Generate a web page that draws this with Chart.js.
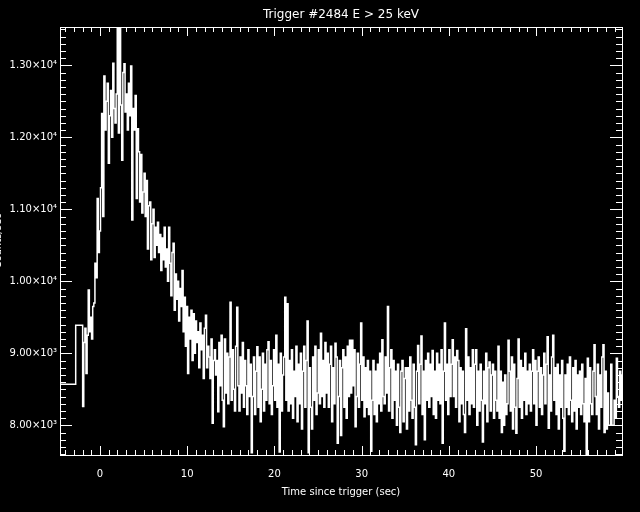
<!DOCTYPE html>
<html>
<head>
<meta charset="utf-8">
<script src="https://cdn.jsdelivr.net/npm/chart.js@4.4.1/dist/chart.umd.min.js"></script>
<style>
  html, body { margin: 0; padding: 0; background: #000; }
</style>
</head>
<body>
<canvas id="lc" width="640" height="512"></canvas>
<script>
const titleText = "Trigger #2484 E > 25 keV";
const xTitle = "Time since trigger (sec)";
const yTitle = "Counts/sec";

// two wide pre-trigger bins (left edge, rate)
const preTimes = [-4.8, -2.78];
const preRates = [8570, 9390];

// fine bins after that, 0.128 s each
const fineStart = -1.984;
const binWidth = 0.128;
const rates = [
  8260, 9150, 9350, 8720, 9250, 9880, 9300, 9500, 9200, 9650,
  9700, 10250, 10050, 11150, 10400, 10700, 11300, 12330, 10900, 12850,
  12100, 12500, 12750, 11640, 12300, 12650, 12000, 13030, 12400, 12200,
  12600, 13600, 12060, 13550, 12450, 11680, 12900, 13020, 12350, 12600,
  12100, 12750, 12300, 12990, 10850, 12400, 12100, 12580, 11150, 12120,
  11800, 11100, 11760, 10950, 11240, 11500, 10900, 11400, 10450, 11050,
  11100, 10300, 10800, 11000, 10330, 10750, 10500, 10820, 10400, 10650,
  10150, 10600, 10300, 10750, 10200, 10450, 10000, 10750, 10250, 9800,
  10400, 10530, 9600, 10100, 9750, 10000, 9450, 9900, 9650, 10150,
  9300, 9780, 9100, 9650, 8720, 9500, 9200, 9600, 8900, 9550,
  9000, 9450, 9150, 9300, 8800, 9420, 9050, 9250, 8650, 9350,
  9530, 8800, 9100, 8950, 8650, 9200, 8030, 8900, 9050, 8700,
  8900, 8190, 9150, 8550, 9250, 8350, 7980, 9200, 8450, 9000,
  8300, 8950, 9710, 8350, 9050, 8500, 8200, 9100, 9640, 8550,
  8200, 8950, 8450, 9150, 8250, 8900, 8550, 8150, 9050, 8400,
  8850, 7620, 8400, 8950, 8150, 8750, 9090, 8250, 8950, 8050,
  8500, 9000, 8200, 8850, 8350, 9050, 9160, 8300, 8900, 8150,
  8550, 9050, 8350, 9250, 8250, 8850, 7630, 9000, 8200, 8700,
  8950, 9780, 8350, 9690, 8200, 8900, 8300, 9050, 8100, 8750,
  8400, 9100, 8050, 8850, 8300, 9000, 7950, 8750, 9100, 8250,
  8900, 9450, 7620, 8800, 8250, 7950, 8950, 8350, 9100, 8150,
  8450, 9050, 8300, 9280, 8400, 8900, 8250, 9150, 8450, 9000,
  8250, 8850, 9100, 8050, 8800, 8300, 9140, 8950, 7750, 8400,
  8900, 7860, 8800, 9050, 8250, 8950, 8100, 9100, 8400, 9180,
  8450, 9180, 8550, 9050, 7980, 8400, 9000, 8250, 8850, 9420,
  8350, 8950, 8120, 8800, 8250, 8900, 8150, 8750, 7640, 8350,
  8900, 8150, 8750, 8050, 8850, 8300, 9000, 8200, 9190, 8400,
  8300, 8950, 8450, 9650, 8200, 8800, 9050, 8100, 8900, 8350,
  8750, 8000, 8850, 8250, 7900, 8750, 8900, 8050, 8650, 8800,
  7950, 8800, 8200, 8950, 8350, 8100, 8850, 8250, 7730, 8750,
  9110, 8300, 8850, 9240, 8150, 8750, 7800, 8900, 8350, 9000,
  8250, 8850, 8400, 9040, 8150, 8750, 8100, 9000, 8350, 8850,
  8300, 9050, 7750, 8750, 9420, 8350, 8850, 8150, 9050, 8400,
  8850, 9190, 8400, 8950, 8250, 9040, 8900, 8050, 8800, 8300,
  8750, 8150, 7900, 9340, 8350, 8950, 8150, 8800, 8300, 9050,
  8250, 8850, 9050, 8000, 8750, 8200, 8850, 8350, 7770, 8750,
  8300, 9000, 8050, 8800, 8880, 8200, 8700, 8850, 8100, 8750,
  8350, 8200, 9100, 8100, 8750, 7900, 8600, 8000, 8700, 8150,
  8300, 9180, 8750, 8200, 8950, 7950, 8850, 8250, 7890, 8650,
  9200, 8250, 8900, 8100, 8800, 8350, 9000, 8150, 8750, 8300,
  8850, 8200, 8750, 9050, 8300, 8900, 8000, 8750, 8950, 8250,
  8800, 8150, 8700, 9000, 8300, 8850, 9230, 7960, 8700, 8200,
  8950, 9250, 8350, 8800, 8150, 8850, 7950, 8700, 8250, 8900,
  8100, 7640, 8700, 8250, 8850, 8150, 8950, 8350, 8050, 8800,
  8200, 8900, 7950, 8700, 8250, 8750, 8150, 8850, 8300, 8050,
  8650, 7600, 8930, 8050, 8800, 8300, 8150, 8750, 9120, 8400,
  8150, 8850, 7950, 8700, 8250, 8950, 9120, 7900, 8750, 7950,
  8450, 8000, 8000, 8850, 8000, 8000, 8350, 8100, 8930, 8400,
  8250, 8750, 8350, 8700
];

const xTickValues = [0, 10, 20, 30, 40, 50];
const yTickValues = [8000, 9000, 10000, 11000, 12000, 13000];
const xMin = -4.58, xMax = 59.85;
const yMin = 7588, yMax = 13532;

// build step points (left bin edges)
const points = [];
preTimes.forEach((t, i) => points.push({ x: t, y: preRates[i] }));
rates.forEach((r, i) => points.push({ x: fineStart + i * binWidth, y: r }));
points.push({ x: fineStart + rates.length * binWidth, y: rates[rates.length - 1] });

const FONT = '"DejaVu Sans", sans-serif';

const idlFrame = {
  id: 'idlFrame',
  beforeDraw(chart) {
    const c = chart.ctx;
    c.save();
    c.fillStyle = '#000';
    c.fillRect(0, 0, chart.width, chart.height);
    c.restore();
  },
  afterDraw(chart) {
    const c = chart.ctx, a = chart.chartArea;
    const xs = chart.scales.x, ys = chart.scales.y;
    c.save();
    c.strokeStyle = '#fff';
    c.lineWidth = 1;
    c.strokeRect(a.left + 0.5, a.top + 0.5, a.right - a.left, a.bottom - a.top);

    // inward ticks on all four sides
    c.beginPath();
    for (let v = Math.ceil(xs.min); v <= xs.max; v += 1) {
      const px = Math.round(xs.getPixelForValue(v)) + 0.5;
      const len = v % 10 === 0 ? 9 : 5;
      c.moveTo(px, a.bottom); c.lineTo(px, a.bottom - len);
      c.moveTo(px, a.top); c.lineTo(px, a.top + len);
    }
    for (let v = Math.ceil(ys.min / 100) * 100; v <= ys.max; v += 100) {
      const py = Math.round(ys.getPixelForValue(v)) + 0.5;
      const len = v % 1000 === 0 ? 12 : 6;
      c.moveTo(a.left, py); c.lineTo(a.left + len, py);
      c.moveTo(a.right, py); c.lineTo(a.right - len, py);
    }
    c.stroke();

    c.fillStyle = '#fff';
    c.font = '12px ' + FONT;
    c.textAlign = 'center';
    c.textBaseline = 'middle';
    c.fillText(titleText, (a.left + a.right) / 2, 15);

    // y title sits mostly off the left edge, as in the original
    c.translate(1, 241);
    c.rotate(-Math.PI / 2);
    c.textBaseline = 'alphabetic';
    c.font = '10px ' + FONT;
    c.fillText(yTitle, 0, 0);
    c.restore();
  }
};

new Chart(document.getElementById('lc'), {
  type: 'line',
  data: {
    datasets: [{
      data: points,
      borderColor: '#fff',
      borderWidth: 1.5,
      pointRadius: 0,
      fill: false,
      stepped: 'before'
    }]
  },
  options: {
    responsive: false,
    animation: false,
    layout: { padding: { top: 27, right: 18, left: 0, bottom: 0 } },
    plugins: { legend: { display: false }, tooltip: { enabled: false } },
    scales: {
      x: {
        type: 'linear',
        min: xMin,
        max: xMax,
        afterBuildTicks: s => { s.ticks = xTickValues.map(v => ({ value: v })); },
        afterFit: s => { s.height = 57; },
        grid: { display: false, drawTicks: false },
        border: { display: false },
        ticks: { color: '#fff', font: { family: FONT, size: 10 }, padding: 13, maxRotation: 0 },
        title: {
          display: true, text: xTitle, color: '#fff',
          font: { family: FONT, size: 10 }, padding: { top: 0, bottom: 14 }
        }
      },
      y: {
        type: 'linear',
        min: yMin,
        max: yMax,
        afterBuildTicks: s => { s.ticks = yTickValues.map(v => ({ value: v })); },
        afterFit: s => { s.width = 60; },
        grid: { display: false, drawTicks: false },
        border: { display: false },
        ticks: {
          color: '#fff', font: { family: FONT, size: 10 }, padding: 3,
          callback: v => v >= 10000 ? (v / 1e4).toFixed(2) + '×10⁴' : (v / 1e3).toFixed(2) + '×10³'
        }
      }
    }
  },
  plugins: [idlFrame]
});
</script>
</body>
</html>
